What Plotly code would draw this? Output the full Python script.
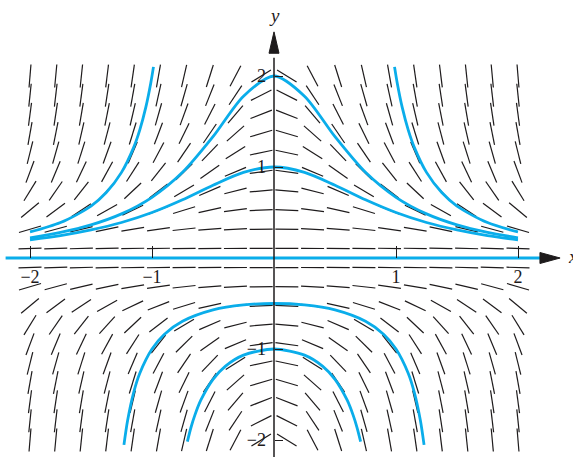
import numpy as np
import plotly.graph_objects as go

# grid of the direction field (20 x 20 points on [-2, 2])
grid_x = [-2.0, -1.789, -1.579, -1.368, -1.158, -0.947, -0.737, -0.526, -0.316, -0.105,
          0.105, 0.316, 0.526, 0.737, 0.947, 1.158, 1.368, 1.579, 1.789, 2.0]
grid_y = [-2.0, -1.789, -1.579, -1.368, -1.158, -0.947, -0.737, -0.526, -0.316, -0.105,
          0.105, 0.316, 0.526, 0.737, 0.947, 1.158, 1.368, 1.579, 1.789, 2.0]
ode_k = -2.0  # y' = k * x * y^2

# solution curves
c1_x = [-2, -1.75, -1.5, -1.25, -1, -0.75, -0.5, -0.25, 0, 0.25, 0.5, 0.75, 1, 1.25, 1.5, 1.75, 2]
c1_y = [0.222, 0.281, 0.364, 0.485, 0.667, 0.941, 1.333, 1.778, 2.0, 1.778, 1.333, 0.941, 0.667, 0.485, 0.364, 0.281, 0.222]

c2_x = [-2, -1.75, -1.5, -1.25, -1, -0.75, -0.5, -0.25, 0, 0.25, 0.5, 0.75, 1, 1.25, 1.5, 1.75, 2]
c2_y = [0.2, 0.246, 0.308, 0.39, 0.5, 0.64, 0.8, 0.941, 1.0, 0.941, 0.8, 0.64, 0.5, 0.39, 0.308, 0.246, 0.2]

c3l_x = [-2, -1.75, -1.5, -1.375, -1.25, -1.15, -1.1, -1.05, -1.01, -0.988]
c3l_y = [0.286, 0.39, 0.571, 0.719, 0.941, 1.216, 1.408, 1.66, 1.923, 2.1]
c3r_x = [0.988, 1.01, 1.05, 1.1, 1.15, 1.25, 1.375, 1.5, 1.75, 2]
c3r_y = [2.1, 1.923, 1.66, 1.408, 1.216, 0.941, 0.719, 0.571, 0.39, 0.286]

c4_x = [-1.23, -1.2, -1.15, -1.1, -1.0, -0.9, -0.75, -0.5, -0.25, 0, 0.25, 0.5, 0.75, 0.9, 1.0, 1.1, 1.15, 1.2, 1.23]
c4_y = [-2.053, -1.786, -1.476, -1.266, -1.0, -0.84, -0.696, -0.571, -0.516, -0.5, -0.516, -0.571, -0.696, -0.84, -1.0, -1.266, -1.476, -1.786, -2.053]

c5_x = [-0.71, -0.68, -0.65, -0.6, -0.5, -0.4, -0.25, 0, 0.25, 0.4, 0.5, 0.6, 0.65, 0.68, 0.71]
c5_y = [-2.017, -1.86, -1.732, -1.563, -1.333, -1.19, -1.067, -1.0, -1.067, -1.19, -1.333, -1.563, -1.732, -1.86, -2.017]

c0_x = [-2.2, 2.18]
c0_y = [0, 0]

tick_vals = [-2, -1, 1, 2]

W, H = 573, 457
X0, Y0 = 274, 258      # pixel of the origin
SX, SY = 122, 91       # pixels per unit
x_range = [-X0 / SX, (W - X0) / SX]
y_range = [-(H - Y0) / SY, Y0 / SY]

BLUE = "#0AADEA"
INK = "#1E1B1C"

# direction segments, constant length on screen
half = 11.5
seg_x, seg_y = [], []
for x in grid_x:
    for y in grid_y:
        m = ode_k * x * y * y
        th = np.arctan(m * SY / SX)
        dx = half * np.cos(th) / SX
        dy = half * np.sin(th) / SY
        seg_x += [x - dx, x + dx, None]
        seg_y += [y - dy, y + dy, None]

fig = go.Figure()
fig.add_trace(go.Scatter(x=seg_x, y=seg_y, mode="lines",
                         line=dict(color=INK, width=1.2), hoverinfo="skip"))

for cx, cy in [(c0_x, c0_y), (c1_x, c1_y), (c2_x, c2_y), (c3l_x, c3l_y),
               (c3r_x, c3r_y), (c4_x, c4_y), (c5_x, c5_y)]:
    fig.add_trace(go.Scatter(x=cx, y=cy, mode="lines",
                             line=dict(color=BLUE, width=2.8, shape="spline", smoothing=0.8),
                             hoverinfo="skip"))

# y axis line and arrow heads
fig.add_shape(type="line", x0=0, x1=0, y0=y_range[0], y1=2.2,
              line=dict(color=INK, width=1.5), layer="above")
ax_w = 5 / SX
fig.add_shape(type="path",
              path=f"M {-ax_w},{2.25} L 0,{2.485} L {ax_w},{2.25} Z",
              fillcolor=INK, line=dict(color=INK, width=1), layer="above")
ay_h = 5.5 / SY
fig.add_shape(type="path",
              path=f"M 2.18,{-ay_h} L 2.345,0 L 2.18,{ay_h} Z",
              fillcolor=INK, line=dict(color=INK, width=1), layer="above")

fig.add_annotation(x=0, y=2.67, text="<i>y</i>", showarrow=False,
                   font=dict(family="Liberation Serif", size=19, color=INK))
fig.add_annotation(x=2.39, y=0.02, text="<i>x</i>", showarrow=False, xanchor="left",
                   font=dict(family="Liberation Serif", size=19, color=INK))

axis_font = dict(family="Liberation Serif", size=18, color=INK)
fig.update_layout(
    width=W, height=H,
    margin=dict(l=0, r=0, t=0, b=0),
    paper_bgcolor="white", plot_bgcolor="white",
    showlegend=False,
    xaxis=dict(range=x_range, anchor="free", position=(H - Y0) / H,
               showline=False, zeroline=False, showgrid=False,
               tickvals=tick_vals, ticks="inside", ticklen=12, tickwidth=1,
               tickcolor=INK, tickfont=axis_font, ticklabelstandoff=6),
    yaxis=dict(range=y_range, anchor="free", position=X0 / W,
               showline=False, zeroline=False, showgrid=False,
               tickvals=tick_vals, ticks="inside", ticklen=8, tickwidth=1,
               tickcolor=INK, tickfont=axis_font, ticklabelstandoff=8),
)

fig.write_html("out.html", config={"displayModeBar": False},
               post_script="document.body.style.margin='0';")
